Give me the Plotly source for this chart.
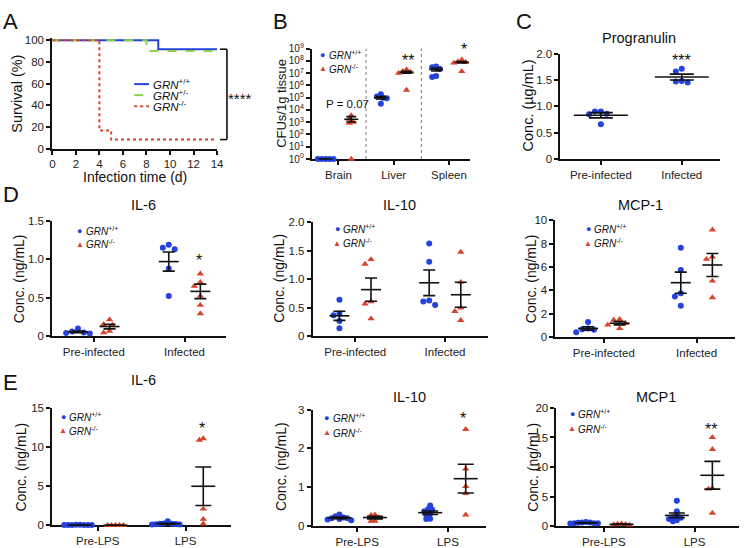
import numpy as np
import plotly.graph_objects as go

W, H = 746, 548
BLUE = "#2442dc"
RED = "#d6442a"
GREEN = "#8ad24a"
BLACK = "#111111"
FONT = "Liberation Sans, Arial, sans-serif"

# ---------------- DATA ----------------
# A: survival (%) vs infection time (d)
days_wt, surv_wt = [0, 9, 14], [100, 91.7, 91.7]
days_het, surv_het = [0, 8, 14], [100, 90, 90]
days_ko, surv_ko = [0, 4, 5, 14], [100, 16.7, 8.3, 8.3]
a_labels = ["<i>GRN</i><sup>+/+</sup>", "<i>GRN</i><sup>+/-</sup>", "<i>GRN</i><sup>-/-</sup>"]

# B: CFUs (log10) per tissue
b_tissues = ["Brain", "Liver", "Spleen"]
b_wt_log = [[0, 0, 0, 0, 0], [5.28, 5.1, 5.0, 4.96, 4.5], [7.54, 7.48, 7.35, 6.77, 6.69]]
b_ko_log = [[3.55, 3.25, 3.0, 2.92, 0], [7.3, 7.15, 7.08, 7.0, 5.63], [8.1, 7.94, 7.89, 7.84, 7.14]]
b_wt_mean, b_wt_sem = [0, 5.0, 7.3], [0, 0.1, 0.12]
b_ko_mean, b_ko_sem = [3.24, 7.08, 7.9], [0.22, 0.07, 0.06]

# C: Progranulin (ug/mL)
c_cats = ["Pre-infected", "Infected"]
c_vals = [[0.9, 0.86, 0.85, 0.9, 0.66], [1.71, 1.66, 1.48, 1.45, 1.47]]
c_mean, c_sem = [0.83, 1.555], [0.05, 0.055]

# D: cytokines after infection (ng/mL)
d_cats = ["Pre-infected", "Infected"]
d_il6_wt = [[0.094, 0.055, 0.043, 0.034, 0.03], [1.19, 1.15, 1.13, 0.88, 0.52]]
d_il6_ko = [[0.21, 0.15, 0.14, 0.06, 0.04], [0.81, 0.70, 0.65, 0.52, 0.40, 0.29]]
d_il6_wt_mean, d_il6_wt_sem = [0.05, 0.97], [0.012, 0.125]
d_il6_ko_mean, d_il6_ko_sem = [0.12, 0.58], [0.03, 0.095]

d_il10_wt = [[0.64, 0.40, 0.37, 0.27, 0.14], [1.63, 1.31, 0.63, 0.61, 0.55]]
d_il10_ko = [[1.35, 1.27, 0.61, 0.57, 0.31], [1.48, 0.95, 0.50, 0.44, 0.28]]
d_il10_wt_mean, d_il10_wt_sem = [0.36, 0.94], [0.08, 0.225]
d_il10_ko_mean, d_il10_ko_sem = [0.82, 0.73], [0.205, 0.22]

d_mcp_wt = [[1.3, 0.75, 0.69, 0.64, 0.42], [7.64, 5.75, 3.75, 3.47, 2.69]]
d_mcp_ko = [[1.53, 1.47, 1.19, 1.05, 0.75], [9.17, 6.86, 6.67, 4.81, 3.39]]
d_mcp_wt_mean, d_mcp_wt_sem = [0.75, 4.66], [0.15, 0.9]
d_mcp_ko_mean, d_mcp_ko_sem = [1.2, 6.17], [0.14, 0.98]

# E: cytokines after LPS (ng/mL)
e_cats = ["Pre-LPS", "LPS"]
e_il6_wt = [[0.08, 0.05, 0.06, 0.04, 0.07, 0.05, 0.06, 0.05], [0.54, 0.25, 0.2, 0.18, 0.15, 0.2, 0.12, 0.1]]
e_il6_ko = [[0.02, 0.03, 0.02, 0.01, 0.02], [11.1, 10.9, 2.1, 0.8, 0.2]]
e_il6_wt_mean, e_il6_wt_sem = [0.05, 0.22], [0.005, 0.05]
e_il6_ko_mean, e_il6_ko_sem = [0.02, 5.0], [0.004, 2.45]

e_il10_wt = [[0.3, 0.25, 0.22, 0.2, 0.18, 0.2, 0.15, 0.17], [0.53, 0.44, 0.42, 0.38, 0.33, 0.29, 0.19, 0.18]]
e_il10_ko = [[0.29, 0.28, 0.22, 0.13, 0.13], [2.49, 1.47, 1.02, 0.84, 0.29]]
e_il10_wt_mean, e_il10_wt_sem = [0.21, 0.345], [0.02, 0.045]
e_il10_ko_mean, e_il10_ko_sem = [0.22, 1.22], [0.035, 0.37]

e_mcp_wt = [[0.7, 0.6, 0.55, 0.5, 0.5, 0.45, 0.5, 0.6], [4.3, 2.5, 1.8, 1.5, 1.4, 1.2, 1.0, 0.8]]
e_mcp_ko = [[0.4, 0.35, 0.3, 0.2, 0.25], [15.0, 13.0, 6.4, 6.3, 2.2]]
e_mcp_wt_mean, e_mcp_wt_sem = [0.55, 1.81], [0.03, 0.4]
e_mcp_ko_mean, e_mcp_ko_sem = [0.3, 8.6], [0.04, 2.35]

# ---------------- helpers ----------------
fig = go.Figure()
layout = {}
annotations = []
shapes = []


def fx(px):
    return px / W


def fy(py):
    return 1 - py / H


def axis_ids(i):
    return ("x" if i == 1 else f"x{i}", "y" if i == 1 else f"y{i}")


def base_axis(fs=11.5):
    return dict(showline=True, linecolor=BLACK, linewidth=2, ticks="outside", ticklen=4,
                tickwidth=1.5, tickcolor=BLACK, showgrid=False, zeroline=False,
                tickfont=dict(size=fs, color="#222", family=FONT), layer="below traces",
                fixedrange=True)


def add_axes(i, xpx, ypx, xr, yr, xt=None, xtt=None, yt=None, ytt=None, ytype="linear",
             xdtick=None, yfs=11.5):
    xid, yid = axis_ids(i)
    xa = base_axis()
    xa.update(domain=[fx(xpx[0]), fx(xpx[1])], range=xr, anchor=yid)
    if xt is not None:
        xa.update(tickmode="array", tickvals=xt, ticktext=xtt)
    if xdtick is not None:
        xa.update(dtick=xdtick, tick0=0)
    ya = base_axis(yfs)
    ya.update(domain=[fy(ypx[1]), fy(ypx[0])], range=yr, anchor=xid, type=ytype)
    if yt is not None:
        ya.update(tickmode="array", tickvals=yt, ticktext=ytt)
    layout["xaxis" if i == 1 else f"xaxis{i}"] = xa
    layout["yaxis" if i == 1 else f"yaxis{i}"] = ya
    return xid, yid


def ann(text, x, y, size=11, xanchor="center", yanchor="middle", angle=0, color="#111", **kw):
    annotations.append(dict(text=text, x=fx(x), y=fy(y), xref="paper", yref="paper",
                            showarrow=False, xanchor=xanchor, yanchor=yanchor, textangle=angle,
                            font=dict(size=size, color=color, family=FONT), **kw))


def swarm(vals, scale, d):
    """deterministic beeswarm offsets in px"""
    vals = np.asarray(vals, float)
    order = np.argsort(-vals)
    placed = []
    offs = np.zeros(len(vals))
    cands = [0]
    for k in range(1, 12):
        cands += [-k * d / 2, k * d / 2]
    for i in order:
        ypx = vals[i] * scale
        for c in cands:
            if all((c - px_) ** 2 + (ypx - py_) ** 2 >= d * d for px_, py_ in placed):
                offs[i] = c
                break
        placed.append((offs[i], ypx))
    return offs


def legend_ann(x, y, dy, size=10):
    ann("●", x, y, size=9, color=BLUE)
    ann("▲", x, y + dy, size=8, color=RED)
    ann("<i>GRN</i><sup>+/+</sup>", x + 4, y, size=size, xanchor="left")
    ann("<i>GRN</i><sup>-/-</sup>", x + 4, y + dy, size=size, xanchor="left")


def dot_panel(i, xpx, ypx, cpx, cats, yr, yt, ytt, groups, off_px, mean_half, cap_half, d,
              ytype="linear", logdata=False, yfs=11.5):
    unit = cpx[1] - cpx[0]
    xr = [(xpx[0] - cpx[0]) / unit, (xpx[1] - cpx[0]) / unit]
    xid, yid = add_axes(i, xpx, ypx, xr, yr, list(range(len(cats))), cats, yt, ytt, ytype, yfs=yfs)
    scale = (ypx[1] - ypx[0]) / (yr[1] - yr[0])
    mx, my, ep, em = [], [], [], []
    for (vals_list, means, sems, color, symbol, sign) in groups:
        for ci, vals in enumerate(vals_list):
            offs = swarm(vals, scale, d)
            cx = ci + sign * off_px / unit
            xs = cx + offs / unit
            ys = [10 ** v for v in vals] if logdata else vals
            fig.add_trace(go.Scatter(x=xs, y=ys, xaxis=xid, yaxis=yid, mode="markers",
                                     cliponaxis=False, showlegend=False, hoverinfo="skip",
                                     marker=dict(color=color, symbol=symbol,
                                                 size=6 if symbol == "circle" else 6.5,
                                                 line=dict(width=0))))
            m, s = means[ci], sems[ci]
            mx.append(cx)
            if logdata:
                my.append(10 ** m)
                ep.append(10 ** (m + s) - 10 ** m)
                em.append(10 ** m - 10 ** (m - s))
            else:
                my.append(m)
                ep.append(s)
                em.append(s)
    fig.add_trace(go.Scatter(x=mx, y=my, xaxis=xid, yaxis=yid, mode="markers", cliponaxis=False,
                             showlegend=False, hoverinfo="skip",
                             marker=dict(symbol="line-ew", size=2 * mean_half / 1.4, color=BLACK,
                                         line=dict(color=BLACK, width=1.6)),
                             error_y=dict(type="data", array=ep, arrayminus=em, symmetric=False,
                                          color=BLACK, thickness=1.6, width=cap_half)))
    return xid, yid


# ---------------- Panel A ----------------
A_x, A_y = (50, 217), (31.8, 145)
xa, ya_ = add_axes(1, A_x, A_y, [0, 14], [0, 102], yt=[0, 20, 40, 60, 80, 100],
                   ytt=["0", "20", "40", "60", "80", "100"], xdtick=2)
for dd, ss, col, dash, nm in [(days_wt, surv_wt, BLUE, "solid", a_labels[0]),
                              (days_het, surv_het, GREEN, "dash", a_labels[1]),
                              (days_ko, surv_ko, RED, "dot", a_labels[2])]:
    fig.add_trace(go.Scatter(x=dd, y=ss, xaxis=xa, yaxis=ya_, mode="lines", line_shape="hv",
                             line=dict(color=col, width=2, dash=dash), name=nm, showlegend=False,
                             hoverinfo="skip"))


def a_ypx(v):
    return 145 - v * (145 - 31.8) / 102


# bracket
yb1, yb2 = a_ypx(surv_wt[-1]), a_ypx(surv_ko[-1])
for seg in [((220, yb1), (227, yb1)), ((227, yb1), (227, yb2)), ((220, yb2), (227, yb2))]:
    shapes.append(dict(type="line", xref="paper", yref="paper", x0=fx(seg[0][0]), y0=fy(seg[0][1]),
                       x1=fx(seg[1][0]), y1=fy(seg[1][1]), line=dict(color=BLACK, width=1.6)))
ann("****", 240, 94, size=15)
# legend A
for k, (col, dash) in enumerate([(BLUE, "solid"), (GREEN, "dash"), (RED, "dot")]):
    yy = 79 + k * 11.3
    shapes.append(dict(type="line", xref="paper", yref="paper", x0=fx(133), x1=fx(148), y0=fy(yy), y1=fy(yy),
                       line=dict(color=col, width=2, dash=dash)))
    ann(a_labels[k], 150, yy, size=11.5, xanchor="left")
ann("Survival (%)", 14, 89, size=14.5, angle=-90)
ann("Infection time (d)", 134, 174, size=14)

# ---------------- Panel B ----------------
bx, by = dot_panel(2, (313, 473), (42.7, 155.7), (340, 396), b_tissues, [0, 9],
                   [10 ** k for k in range(10)], [f"10<sup>{k}</sup>" for k in range(10)],
                   [(b_wt_log, b_wt_mean, b_wt_sem, BLUE, "circle", -1),
                    (b_ko_log, b_ko_mean, b_ko_sem, RED, "triangle-up", 1)],
                   off_px=13, mean_half=7, cap_half=5, d=4, ytype="log", logdata=True, yfs=10)
for xv in [0.5, 1.5]:
    shapes.append(dict(type="line", xref=bx, yref=f"{by} domain", x0=xv, x1=xv, y0=0, y1=1,
                       line=dict(color="#777", width=1, dash="dot")))
legend_ann(324, 49, 14)
ann("P = 0.07", 349, 99, size=11.5)
ann("**", 410, 55, size=16)
ann("*", 467, 44, size=16)
ann("CFUs/1g tissue", 282, 99, size=13, angle=-90)

# ---------------- Panel C ----------------
dot_panel(3, (565, 727), (47.7, 155.7), (606, 688), c_cats, [0, 2], [0, 0.5, 1, 1.5, 2],
          ["0", "0.5", "1.0", "1.5", "2.0"],
          [(c_vals, c_mean, c_sem, BLUE, "circle", 0)], off_px=0, mean_half=27, cap_half=12, d=6)
ann("Progranulin", 645, 32, size=14.5)
ann("***", 688, 55, size=16)
ann("Conc. (µg/mL)", 532, 101, size=14.5, angle=-90)

# ---------------- Panel D ----------------
dot_panel(4, (50, 226), (219.3, 336.7), (92, 184), d_cats, [0, 1.5], [0, 0.5, 1, 1.5],
          ["0", "0.5", "1.0", "1.5"],
          [(d_il6_wt, d_il6_wt_mean, d_il6_wt_sem, BLUE, "circle", -1),
           (d_il6_ko, d_il6_ko_mean, d_il6_ko_sem, RED, "triangle-up", 1)],
          off_px=16, mean_half=10, cap_half=6, d=6)
legend_ann(78, 229, 14)
ann("IL-6", 142, 203, size=14.5)
ann("*", 199, 260, size=16)
ann("Conc. (ng/mL)", 17, 278, size=14, angle=-90)

dot_panel(5, (314, 492), (220.7, 337.3), (357, 448), d_cats, [0, 2], [0, 0.5, 1, 1.5, 2],
          ["0", "0.5", "1.0", "1.5", "2.0"],
          [(d_il10_wt, d_il10_wt_mean, d_il10_wt_sem, BLUE, "circle", -1),
           (d_il10_ko, d_il10_ko_mean, d_il10_ko_sem, RED, "triangle-up", 1)],
          off_px=16, mean_half=10, cap_half=6, d=6)
legend_ann(339, 227, 15)
ann("IL-10", 402, 203, size=14.5)
ann("Conc. (ng/mL)", 280, 278, size=14, angle=-90)

dot_panel(6, (560, 742), (218.3, 338.3), (609, 703), d_cats, [0, 10], [0, 2, 4, 6, 8, 10],
          ["0", "2", "4", "6", "8", "10"],
          [(d_mcp_wt, d_mcp_wt_mean, d_mcp_wt_sem, BLUE, "circle", -1),
           (d_mcp_ko, d_mcp_ko_mean, d_mcp_ko_sem, RED, "triangle-up", 1)],
          off_px=16, mean_half=10, cap_half=6, d=6)
legend_ann(593, 227, 15)
ann("MCP-1", 646, 203, size=14.5)
ann("Conc. (ng/mL)", 536, 278, size=14, angle=-90)

# ---------------- Panel E ----------------
dot_panel(7, (50, 231), (410.7, 531), (96, 185), e_cats, [0, 15], [0, 5, 10, 15],
          ["0", "5", "10", "15"],
          [(e_il6_wt, e_il6_wt_mean, e_il6_wt_sem, BLUE, "circle", -1),
           (e_il6_ko, e_il6_ko_mean, e_il6_ko_sem, RED, "triangle-up", 1)],
          off_px=18, mean_half=12, cap_half=8, d=4)
legend_ann(61, 420, 14)
ann("IL-6", 142, 382, size=14.5)
ann("*", 202, 432, size=16)
ann("Conc. (ng/mL)", 18, 471, size=14, angle=-90)

dot_panel(8, (314, 490), (412.3, 531.7), (359, 451), e_cats, [0, 3], [0, 1, 2, 3],
          ["0", "1", "2", "3"],
          [(e_il10_wt, e_il10_wt_mean, e_il10_wt_sem, BLUE, "circle", -1),
           (e_il10_ko, e_il10_ko_mean, e_il10_ko_sem, RED, "triangle-up", 1)],
          off_px=18, mean_half=12, cap_half=8, d=4)
legend_ann(328, 421, 15)
ann("IL-10", 412, 399, size=14.5)
ann("*", 466, 421, size=16)
ann("Conc. (ng/mL)", 282, 471, size=14, angle=-90)

dot_panel(9, (561, 746), (410.7, 531.7), (609, 701), e_cats, [0, 20], [0, 5, 10, 15, 20],
          ["0", "5", "10", "15", "20"],
          [(e_mcp_wt, e_mcp_wt_mean, e_mcp_wt_sem, BLUE, "circle", -1),
           (e_mcp_ko, e_mcp_ko_mean, e_mcp_ko_sem, RED, "triangle-up", 1)],
          off_px=18, mean_half=12, cap_half=8, d=4)
legend_ann(577, 417, 15)
ann("MCP1", 662, 399, size=14.5)
ann("**", 718, 433, size=16)
ann("Conc. (ng/mL)", 537, 471, size=14, angle=-90)

# panel letters
for letter, x, y in [("A", 8, 15), ("B", 281, 15), ("C", 528, 15), ("D", 8, 192), ("E", 8, 385)]:
    ann(letter, x, y, size=22)

fig.update_layout(width=W, height=H, margin=dict(l=0, r=0, t=0, b=0), paper_bgcolor="white",
                  plot_bgcolor="white", showlegend=False, font=dict(family=FONT, color="#111"),
                  annotations=annotations, shapes=shapes, **layout)
fig.write_html("out.html", config={"displayModeBar": False},
               post_script="document.body.style.margin='0px';document.body.style.overflow='hidden';")
